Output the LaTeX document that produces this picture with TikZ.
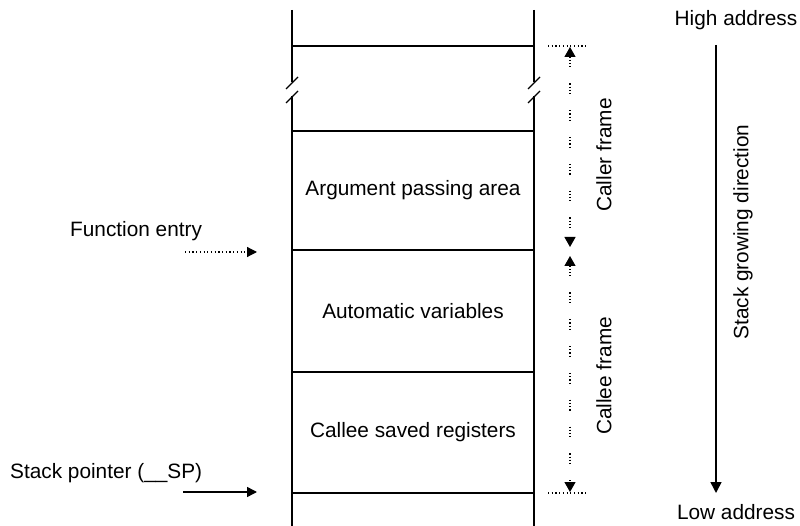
\documentclass[tikz,border=0pt]{standalone}
\usepackage{fontspec}
\setmainfont{Liberation Sans}
\usetikzlibrary{arrows.meta,calc}

\begin{document}
\begin{tikzpicture}[
    x=1pt, y=-1pt,
    font=\fontsize{20.8}{24}\selectfont,
    wall/.style  = {draw=black, line width=1.5pt},
    brk/.style   = {draw=black, line width=1.2pt},
    tip/.style   = {-{Triangle[length=10pt,width=10pt]}},
    ptr/.style   = {tip, line width=1.5pt},
    dots/.style  = {line width=1.2pt, dash pattern=on 1.2pt off 2.5pt},
    dim/.style   = {line width=1.2pt,
                    dash pattern=on 1.2pt off 2pt on 1.2pt off 2pt on 1.2pt off 2pt on 1.2pt off 16pt},
    dimtip/.style= {{Triangle[length=10pt,width=11pt]}-{Triangle[length=10pt,width=11pt]}},
    lbl/.style   = {inner sep=0pt},
]
\useasboundingbox (0,0) rectangle (800,526);

%============================ STACK =================================
% walls, broken near the top
\draw[wall] (292,10) -- (292,82);
\draw[wall] (292,96) -- (292,526);
\draw[wall] (534,10) -- (534,82);
\draw[wall] (534,96) -- (534,526);
\draw[brk] (286,89) -- (298,77);
\draw[brk] (286,103) -- (298,91);
\draw[brk] (528,89) -- (540,77);
\draw[brk] (528,103) -- (540,91);

% frame borders
\foreach \y/\n in {46/0, 131/1, 250/2, 372/3, 493/4} {
    \coordinate (l\n) at (292,\y);
    \coordinate (r\n) at (534,\y);
    \draw[wall] (l\n) -- (r\n);
}

\node[lbl] (args) at ($(l1)!0.5!(r2)$) {Argument passing area};
\node[lbl] (auto) at ($(l2)!0.5!(r3)$) {Automatic variables};
\node[lbl] (regs) at ($(l3)!0.5!(r4)$) {Callee saved registers};

%============================ POINTERS ==============================
\node[lbl, anchor=west] (fe) at (70,231) {Function entry};
\coordinate (feS) at (185,252);
\draw[dots, tip] (feS) -- ([xshift=-35pt,yshift=-2pt]l2);

\node[lbl, anchor=west] (sp) at (10,473) {Stack pointer (\_\_SP)};
\coordinate (spS) at (183,492);
\draw[ptr] (spS) -- ([xshift=-35pt,yshift=1pt]l4);

%============================ FRAMES ================================
\coordinate (cT) at (570,46);
\coordinate (cM) at (570,250);
\coordinate (cB) at (570,493);
\draw[dots] ([xshift=14pt]r0) -- ++(38,0);
\draw[dots] ([xshift=14pt]r4) -- ++(38,0);
\draw[dim, dimtip] ([yshift=-1pt]cT) -- ([yshift=3pt]cM);
\draw[dim, dimtip] ([yshift=-6pt]cM) -- ([yshift=1pt]cB);

\node[lbl, rotate=90] (caller) at (604,155) {Caller frame};
\node[lbl, rotate=90] (callee) at (604,376) {Callee frame};

%============================ DIRECTION =============================
\node[lbl] (hi) at (736,20) {High address};
\node[lbl] (lo) at (736,512) {Low address};
\coordinate (gT) at (716,45);
\coordinate (gB) at (716,493);
\draw[line width=1.5pt, -{Triangle[length=11pt,width=11pt]}] (gT) -- (gB);
\node[lbl, rotate=90] (grow) at (743,232) {Stack growing direction};

\end{tikzpicture}
\end{document}
